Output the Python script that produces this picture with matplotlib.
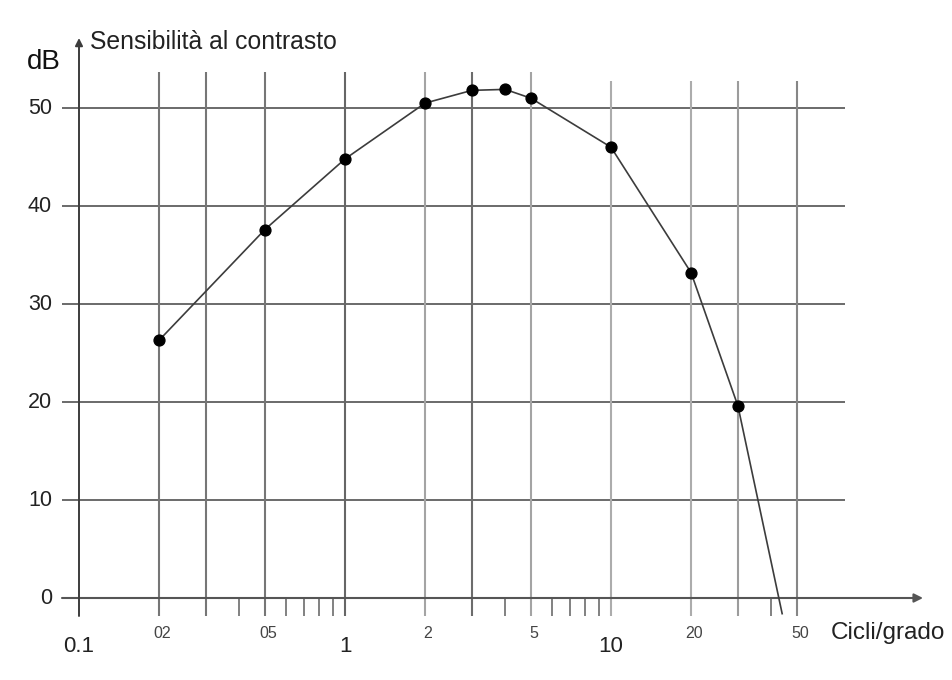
import matplotlib.pyplot as plt

plt.rcParams['font.family'] = ['Liberation Sans', 'DejaVu Sans']

# Contrast sensitivity (dB) versus spatial frequency (cycles/degree)
freq = [0.2, 0.5, 1, 2, 3, 4, 5, 10, 20, 30]
sens_db = [26.3, 37.6, 44.8, 50.5, 51.8, 51.9, 51.0, 46.0, 33.2, 19.6]
# the curve keeps falling past the last measured point, down to the cut-off
tail_freq = [30, 44]
tail_db = [19.6, -1.6]

grid_x = [0.2, 0.3, 0.5, 1, 2, 3, 5, 10, 20, 30, 50]
minor_x = [0.4, 0.6, 0.7, 0.8, 0.9, 4, 6, 7, 8, 9, 40]
y_ticks = [0, 10, 20, 30, 40, 50]
big_labels = [(0.1, "0.1"), (1, "1"), (10, "10")]
small_labels = [(0.2, "02"), (0.5, "05"), (2, "2"), (5, "5"), (20, "20"), (50, "50")]

W, H = 952, 680
fig = plt.figure(figsize=(W / 100, H / 100), dpi=100)
ax = fig.add_axes([79 / W, 82 / H, 766 / W, 490 / H])
ax.set_xscale('log')
XMAX = 10 ** (-1 + 766 / 266)
ax.set_xlim(0.1, XMAX)
ax.set_ylim(0, 50)
ax.axis('off')

PX_PER_DEC = 266.0
PX_PER_DB = 9.8


def xs(x, dpx):
    """shift a log-x value by a number of pixels"""
    return x * 10 ** (dpx / PX_PER_DEC)


def ys(y, dpx):
    return y + dpx / PX_PER_DB


y_bottom = ys(0, -18)
x_left = xs(0.1, -17)

# horizontal grid
for yv in y_ticks[1:]:
    ax.plot([x_left, XMAX], [yv, yv], color='#6a6a6a', lw=1.4,
            clip_on=False, zorder=1, solid_capstyle='butt')

# vertical grid lines
v_colors = ['#767676', '#767676', '#767676', '#666666', '#a4a4a4', '#6c6c6c',
            '#a4a4a4', '#acacac', '#acacac', '#9c9c9c', '#868686']
for xv, c in zip(grid_x, v_colors):
    top = ys(50, 27) if xv >= 10 else ys(50, 36)
    ax.plot([xv, xv], [y_bottom, top], color=c, lw=1.5,
            clip_on=False, zorder=1, solid_capstyle='butt')

# minor ticks below the axis
for xv in minor_x:
    ax.plot([xv, xv], [0, y_bottom], color='#6c6c6c', lw=1.2,
            clip_on=False, zorder=1, solid_capstyle='butt')

# axes with arrow heads
ax.annotate('', xy=(xs(0.1, 844), 0), xytext=(x_left, 0),
            arrowprops=dict(arrowstyle='-|>', color='#555555', lw=1.5,
                            mutation_scale=13, shrinkA=0, shrinkB=0),
            annotation_clip=False, zorder=2)
ax.annotate('', xy=(0.1, ys(50, 70)), xytext=(0.1, y_bottom),
            arrowprops=dict(arrowstyle='-|>', color='#3c3c3c', lw=1.4,
                            mutation_scale=11, shrinkA=0, shrinkB=0),
            annotation_clip=False, zorder=2)

# the curve
ax.plot(tail_freq, tail_db, color='#3c3c3c', lw=1.2, clip_on=False, zorder=3)
ax.plot(freq, sens_db, color='#3c3c3c', lw=1.2, marker='o', markersize=7.8,
        markerfacecolor='black', markeredgecolor='black', clip_on=False, zorder=4)

# tick labels
for yv in y_ticks:
    ax.text(xs(0.1, -27), yv, str(yv), ha='right', va='center',
            fontsize=15.5, color='#222222', clip_on=False)
for xv, s in big_labels:
    ax.text(xv, ys(0, -48), s, ha='center', va='center', fontsize=16,
            color='#222222', clip_on=False)
for xv, s in small_labels:
    ax.text(xs(xv, 3), ys(0, -35), s, ha='center', va='center', fontsize=11.5,
            color='#444444', clip_on=False)

# axis titles
ax.text(xs(0.1, 752), ys(0, -35), 'Cicli/grado', ha='left', va='center',
        fontsize=17.5, color='#222222', clip_on=False)
ax.text(xs(0.1, -35), ys(50, 46), 'dB', ha='center', va='center',
        fontsize=20, color='#111111', clip_on=False)
ax.text(xs(0.1, 11), ys(50, 66), 'Sensibilità al contrasto', ha='left',
        va='center', fontsize=17.8, color='#222222', clip_on=False)

fig.savefig('out.png', dpi=100, facecolor='white')
